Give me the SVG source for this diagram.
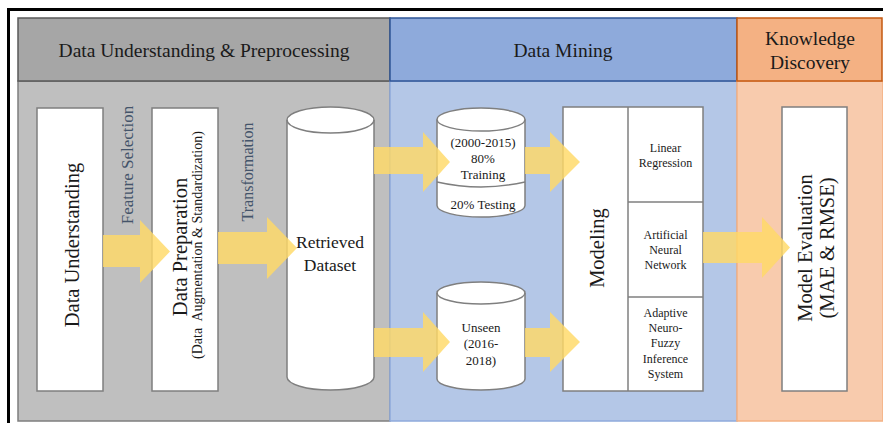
<svg xmlns="http://www.w3.org/2000/svg" width="883" height="423" viewBox="0 0 883 423">
<style>
  text { font-family: "Liberation Serif", "Times New Roman", serif; fill: #1a1a1a; }
  .hdr { font-size: 19.5px; text-anchor: middle; }
  .big { font-size: 20.5px; text-anchor: middle; }
  .cyl { font-size: 13px; text-anchor: middle; }
  .sm { font-size: 12px; text-anchor: middle; }
  .lbl { font-size: 16px; text-anchor: middle; fill: #44546a; }
  .box { fill: #ffffff; stroke: #7f7f7f; stroke-width: 1.5; }
  .arrow { fill: #ffd966; fill-opacity: 0.82; stroke: none; }
</style>
<rect x="0" y="0" width="883" height="423" fill="#ffffff"/>
<rect x="8.5" y="9.5" width="900" height="500" fill="none" stroke="#000000" stroke-width="3"/>

<g id="lane-preprocessing">
  <rect x="18" y="81" width="372" height="340" fill="#bfbfbf" stroke="#7f7f7f" stroke-width="1.5"/>
  <rect x="18" y="18" width="372" height="63" fill="#a6a6a6" stroke="#595959" stroke-width="1.5"/>
  <text class="hdr" x="204" y="57">Data Understanding &amp; Preprocessing</text>
</g>
<g id="lane-mining">
  <rect x="390" y="81" width="347" height="340" fill="#b4c7e7" stroke="#8faadc" stroke-width="1.5"/>
  <rect x="390" y="18" width="347" height="63" fill="#8eaadb" stroke="#2f5597" stroke-width="1.5"/>
  <text class="hdr" x="563" y="57">Data Mining</text>
</g>
<g id="lane-knowledge">
  <rect x="737" y="81" width="146" height="340" fill="#f8cbad" stroke="#f4b183" stroke-width="1.5"/>
  <rect x="737" y="18" width="145" height="63" fill="#f4b183" stroke="#c55a11" stroke-width="1.5"/>
  <text class="hdr" x="810" y="45">Knowledge</text>
  <text class="hdr" x="810" y="69">Discovery</text>
</g>

<g id="data-understanding">
  <rect class="box" x="37" y="108" width="66" height="283"/>
  <text class="big" transform="translate(79,245) rotate(-90)">Data Understanding</text>
</g>
<g id="data-preparation">
  <rect class="box" x="152" y="108" width="66" height="283"/>
  <text class="big" transform="translate(187,247) rotate(-90)">Data Preparation</text>
  <text transform="translate(202,245) rotate(-90)" style="font-size:14px;text-anchor:middle" xml:space="preserve">(Data  Augmentation &amp; Standardization)</text>
</g>
<g id="retrieved-dataset">
  <path class="box" d="M287,120 A43.5,13 0 0 1 374,120 L374,377 A43.5,13 0 0 1 287,377 Z"/>
  <path d="M287,120 A43.5,13 0 0 0 374,120" fill="none" stroke="#7f7f7f" stroke-width="1.5"/>
  <text x="330" y="248" style="font-size:17.5px;text-anchor:middle">Retrieved</text>
  <text x="330" y="271" style="font-size:17.5px;text-anchor:middle">Dataset</text>
</g>
<g id="training-testing">
  <path class="box" d="M437,119.5 A44,11.5 0 0 1 525,119.5 L525,205.5 A44,11.5 0 0 1 437,205.5 Z"/>
  <path d="M437,119.5 A44,11.5 0 0 0 525,119.5" fill="none" stroke="#7f7f7f" stroke-width="1.5"/>
  <path d="M437,182 Q481,192 525,182" fill="none" stroke="#7f7f7f" stroke-width="1.5"/>
  <text class="cyl" x="483" y="147">(2000-2015)</text>
  <text class="cyl" x="483" y="163">80%</text>
  <text class="cyl" x="483" y="179">Training</text>
  <text class="cyl" x="483" y="209">20% Testing</text>
</g>
<g id="unseen">
  <path class="box" d="M437,293 A44,11 0 0 1 525,293 L525,379 A44,11 0 0 1 437,379 Z"/>
  <path d="M437,293 A44,11 0 0 0 525,293" fill="none" stroke="#7f7f7f" stroke-width="1.5"/>
  <text class="cyl" x="481" y="332">Unseen</text>
  <text class="cyl" x="481" y="348">(2016-</text>
  <text class="cyl" x="481" y="365">2018)</text>
</g>
<g id="modeling">
  <rect class="box" x="563" y="107" width="140" height="284"/>
  <line x1="628" y1="107" x2="628" y2="391" stroke="#7f7f7f" stroke-width="1.5"/>
  <line x1="628" y1="202" x2="703" y2="202" stroke="#7f7f7f" stroke-width="1.5"/>
  <line x1="628" y1="297" x2="703" y2="297" stroke="#7f7f7f" stroke-width="1.5"/>
  <text class="big" transform="translate(604,248) rotate(-90)">Modeling</text>
  <text class="sm" x="665.5" y="152">Linear</text>
  <text class="sm" x="665.5" y="167">Regression</text>
  <text class="sm" x="665.5" y="239">Artificial</text>
  <text class="sm" x="665.5" y="254">Neural</text>
  <text class="sm" x="665.5" y="269">Network</text>
  <text class="sm" x="665.5" y="317">Adaptive</text>
  <text class="sm" x="665.5" y="332">Neuro-</text>
  <text class="sm" x="665.5" y="347">Fuzzy</text>
  <text class="sm" x="665.5" y="363">Inference</text>
  <text class="sm" x="665.5" y="378">System</text>
</g>
<g id="model-evaluation">
  <rect class="box" x="782" y="107" width="65" height="284"/>
  <text class="big" transform="translate(812,248) rotate(-90)">Model Evaluation</text>
  <text class="big" transform="translate(834,248) rotate(-90)">(MAE &amp; RMSE)</text>
</g>

<g id="connectors">
  <polygon class="arrow" points="103,235 140,235 140,220 170,251.5 140,283 140,267 103,267"/>
  <polygon class="arrow" points="218,232 267,232 267,217 297,248 267,279 267,264 218,264"/>
  <polygon class="arrow" points="374,147 423,147 423,132 450,162 423,192 423,174 374,174"/>
  <polygon class="arrow" points="374,328 423,328 423,312 450,342 423,372 423,357 374,357"/>
  <polygon class="arrow" points="525,147 550,147 550,132 580,162 550,192 550,174 525,174"/>
  <polygon class="arrow" points="525,328 550,328 550,312 580,342 550,372 550,357 525,357"/>
  <polygon class="arrow" points="703,232 762,232 762,217 790,247.5 762,278 762,263 703,263"/>
  <text class="lbl" transform="translate(133,165) rotate(-90)" style="font-size:17px">Feature Selection</text>
  <text class="lbl" transform="translate(253,172) rotate(-90)">Transformation</text>
</g>
</svg>
